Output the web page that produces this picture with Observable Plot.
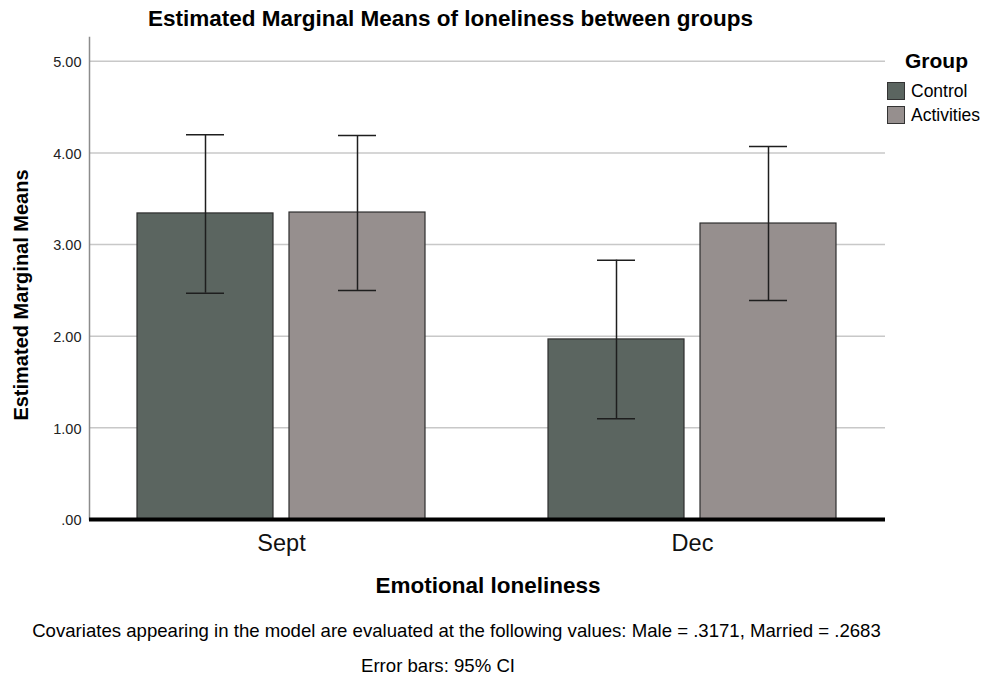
<!DOCTYPE html>
<html>
<head>
<meta charset="utf-8">
<script src="https://cdn.jsdelivr.net/npm/d3@7"></script>
<script src="https://cdn.jsdelivr.net/npm/@observablehq/plot@0.6"></script>
<style>
  html, body { margin: 0; padding: 0; background: #fff; }
  #wrap { position: relative; width: 984px; height: 680px; font-family: "Liberation Sans", Arial, sans-serif; color: #000; }
  #chart { position: absolute; left: 0; top: 0; }
  .txt { position: absolute; white-space: nowrap; line-height: 1; }
  #title { left: 0; width: 901px; top: 8px; text-align: center; font-weight: bold; font-size: 22.5px; }
  #xlabel { left: 0; width: 976px; top: 575px; text-align: center; font-weight: bold; font-size: 22.5px; }
  #cap1 { left: 0; width: 913px; top: 622.3px; text-align: center; font-size: 18.6px; }
  #cap2 { left: 0; width: 876px; top: 657.3px; text-align: center; font-size: 18.6px; }
  #ylabel { left: 21px; top: 295px; font-weight: bold; font-size: 20px; transform: translate(-50%, -50%) rotate(-90deg); }
  #lgHead { left: 905px; top: 50.2px; font-weight: bold; font-size: 21px; }
  .sw { position: absolute; left: 887px; width: 18px; height: 18px; border: 1px solid #333; box-sizing: border-box; }
  .lgItem { left: 911px; font-size: 17.5px; }
</style>
</head>
<body>
<div id="wrap">
  <div id="chart"></div>
  <div class="txt" id="title">Estimated Marginal Means of loneliness between groups</div>
  <div class="txt" id="ylabel">Estimated Marginal Means</div>
  <div class="txt" id="xlabel">Emotional loneliness</div>
  <div class="txt" id="cap1">Covariates appearing in the model are evaluated at the following values: Male = .3171, Married = .2683</div>
  <div class="txt" id="cap2">Error bars: 95% CI</div>
  <div class="txt" id="lgHead">Group</div>
  <div id="legend"></div>
</div>
<script>
// ---- data ----
const months = ["Sept", "Dec"];
const groups = ["Control", "Activities"];
const controlMeans = [3.34, 1.965];
const controlLower = [2.47, 1.10];
const controlUpper = [4.20, 2.83];
const activitiesMeans = [3.35, 3.23];
const activitiesLower = [2.50, 2.39];
const activitiesUpper = [4.19, 4.07];
const yTicks = [0, 1, 2, 3, 4, 5];
const yTickLabels = [".00", "1.00", "2.00", "3.00", "4.00", "5.00"];
const groupColors = ["#5b6560", "#968f8e"];

// ---- table ----
const rows = [];
months.forEach((m, i) => {
  rows.push({month: m, group: "Control", mean: controlMeans[i], lo: controlLower[i], hi: controlUpper[i]});
  rows.push({month: m, group: "Activities", mean: activitiesMeans[i], lo: activitiesLower[i], hi: activitiesUpper[i]});
});
const ctrl = rows.filter(d => d.group === "Control");
const act = rows.filter(d => d.group === "Activities");

const barInset = 152;   // splits each month band into two bars
const errOffset = 76;   // bar centre offset from band centre
const capIn = 49, capOut = 201;

const barStyle = {stroke: "#2e2e2e", strokeWidth: 1.2};
const errStyle = {stroke: "#1e1e1e", strokeWidth: 1.5};
const plot = Plot.plot({
  width: 984,
  height: 680,
  marginLeft: 89,
  marginRight: 99,
  marginTop: 37,
  marginBottom: 161,
  style: {fontFamily: "Liberation Sans, Arial, sans-serif", background: "transparent"},
  x: {type: "band", domain: months, paddingInner: 0.2985, paddingOuter: 0.116, label: null},
  y: {domain: [0, 5.26], label: null},
  color: {domain: groups, range: groupColors},
  marks: [
    Plot.gridY(yTicks.filter(d => d > 0), {stroke: "#c8c8c8", strokeOpacity: 1, strokeWidth: 1.5}),
    Plot.frame({anchor: "left", stroke: "#8c8c8c", strokeWidth: 1.5}),
    Plot.barY(ctrl, {x: "month", y: "mean", fill: "group", insetRight: barInset, ...barStyle}),
    Plot.barY(act, {x: "month", y: "mean", fill: "group", insetLeft: barInset, ...barStyle}),
    Plot.ruleX(ctrl, {x: "month", y1: "lo", y2: "hi", dx: -errOffset, ...errStyle}),
    Plot.ruleX(act, {x: "month", y1: "lo", y2: "hi", dx: errOffset, ...errStyle}),
    Plot.tickY(ctrl, {x: "month", y: "lo", insetLeft: capIn, insetRight: capOut, ...errStyle}),
    Plot.tickY(ctrl, {x: "month", y: "hi", insetLeft: capIn, insetRight: capOut, ...errStyle}),
    Plot.tickY(act, {x: "month", y: "lo", insetLeft: capOut, insetRight: capIn, ...errStyle}),
    Plot.tickY(act, {x: "month", y: "hi", insetLeft: capOut, insetRight: capIn, ...errStyle}),
    Plot.ruleY([0], {stroke: "#000", strokeWidth: 4}),
    Plot.axisY({ticks: yTicks, tickFormat: d => yTickLabels[yTicks.indexOf(d)], tickSize: 0, tickPadding: 8, fontSize: 14.5, dy: 1, fill: "#222", label: null}),
    Plot.axisX({tickSize: 0, tickPadding: 15, fontSize: 23.5, fill: "#111", label: null})
  ]
});
document.getElementById("chart").appendChild(plot);

// legend
const leg = document.getElementById("legend");
const baselines = [98, 121.5];
const swTops = [82, 105.5];
leg.innerHTML = groups.map((g, i) =>
  `<span class="sw" style="top:${swTops[i]}px;background:${groupColors[i]}"></span>` +
  `<div class="txt lgItem" style="top:${baselines[i] - 0.8465 * 17.5}px">${g}</div>`).join("");
</script>
</body>
</html>
